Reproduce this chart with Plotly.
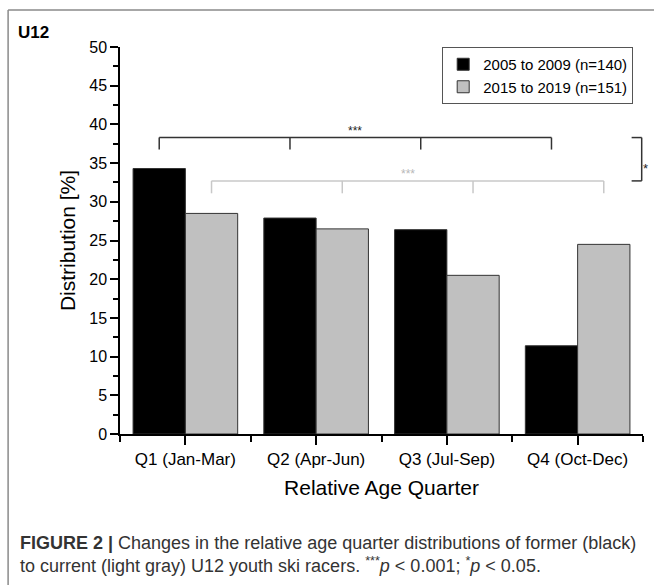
import plotly.graph_objects as go

# ---- data ----
categories = ["Q1 (Jan-Mar)", "Q2 (Apr-Jun)", "Q3 (Jul-Sep)", "Q4 (Oct-Dec)"]
series_names = ["2005 to 2009 (n=140)", "2015 to 2019 (n=151)"]
former_values = [34.3, 27.9, 26.4, 11.4]
current_values = [28.5, 26.5, 20.5, 24.5]
y_ticks = [0, 5, 10, 15, 20, 25, 30, 35, 40, 45, 50]

# significance annotations (bracket heights in % units)
former_bracket = {"level": 38.3, "drop": 36.75, "label": "***", "label_y": 39.2}
current_bracket = {"level": 32.7, "drop": 31.1, "label": "***", "label_y": 33.6}
between_bracket = {"top": 38.3, "bottom": 32.7, "label": "*"}

W, H = 654, 585
L, R, T, B = 119.5, 11, 46.7, 150.5
pw, ph = W - L - R, H - T - B
X_RANGE = [-0.5, 3.5]
Y_RANGE = [0, 50]


def px_x(px):
    return (px - L) / pw


def px_y(py):
    return (H - B - py) / ph


def dx_paper(xv):
    return (xv - X_RANGE[0]) / (X_RANGE[1] - X_RANGE[0])


def dy_paper(yv):
    return (yv - Y_RANGE[0]) / (Y_RANGE[1] - Y_RANGE[0])


x_idx = list(range(len(categories)))
bar_off = 0.2

fig = go.Figure()
fig.add_trace(go.Bar(
    x=x_idx, y=former_values, name=series_names[0],
    marker=dict(color="#000000", line=dict(color="#333333", width=1)),
))
fig.add_trace(go.Bar(
    x=x_idx, y=current_values, name=series_names[1],
    marker=dict(color="#c0c0c0", line=dict(color="#333333", width=1)),
))

shapes = []
annotations = []


def bracket(xs, level, drop, color):
    shapes.append(dict(type="line", xref="x", yref="y", x0=xs[0], x1=xs[-1],
                       y0=level, y1=level, line=dict(color=color, width=1.5)))
    for xv in xs:
        shapes.append(dict(type="line", xref="x", yref="y", x0=xv, x1=xv,
                           y0=level, y1=drop, line=dict(color=color, width=1.5)))


fx = [i - bar_off for i in x_idx]
cx = [i + bar_off for i in x_idx]
bracket(fx, former_bracket["level"], former_bracket["drop"], "#333333")
bracket(cx, current_bracket["level"], current_bracket["drop"], "#c8c8c8")
annotations.append(dict(x=(fx[0] + fx[-1]) / 2, y=former_bracket["label_y"], xref="x", yref="y",
                        text=former_bracket["label"], showarrow=False,
                        font=dict(size=12, color="#222222", family="Liberation Sans")))
annotations.append(dict(x=(cx[0] + cx[-1]) / 2, y=current_bracket["label_y"], xref="x", yref="y",
                        text=current_bracket["label"], showarrow=False,
                        font=dict(size=12, color="#b8b8b8", family="Liberation Sans")))

# right-side bracket between the two periods (paper coords so it is not clipped)
bx0, bx1 = dx_paper(3.413), dx_paper(3.49)
ytop, ybot = dy_paper(between_bracket["top"]), dy_paper(between_bracket["bottom"])
for yy in (ytop, ybot):
    shapes.append(dict(type="line", xref="paper", yref="paper", x0=bx0, x1=bx1, y0=yy, y1=yy,
                       line=dict(color="#333333", width=1.5)))
shapes.append(dict(type="line", xref="paper", yref="paper", x0=bx1, x1=bx1, y0=ytop, y1=ybot,
                   line=dict(color="#333333", width=1.5)))
annotations.append(dict(x=dx_paper(3.555), y=(ytop + ybot) / 2, xref="paper", yref="paper",
                        text=between_bracket["label"], showarrow=False,
                        font=dict(size=13, color="#222222", family="Liberation Sans")))

# outer frame (open at right/bottom)
shapes.append(dict(type="line", xref="paper", yref="paper",
                   x0=px_x(7.5), x1=px_x(660), y0=px_y(9.5), y1=px_y(9.5),
                   line=dict(color="#8a8a8a", width=1.5)))
shapes.append(dict(type="line", xref="paper", yref="paper",
                   x0=px_x(7.5), x1=px_x(7.5), y0=px_y(9.5), y1=px_y(590),
                   line=dict(color="#8a8a8a", width=1.5)))

# panel label
annotations.append(dict(x=px_x(15), y=px_y(32), xref="paper", yref="paper",
                        xanchor="left", yanchor="middle", text="<b>U12</b>", showarrow=False,
                        font=dict(size=17, color="#000000", family="Liberation Sans")))

# caption
caption = ("<b>FIGURE 2 |</b> Changes in the relative age quarter distributions of former (black)"
           "<br>to current (light gray) U12 youth ski racers. <sup>***</sup><i>p</i> &lt; 0.001; "
           "<sup>*</sup><i>p</i> &lt; 0.05.")
annotations.append(dict(x=px_x(17), y=px_y(555), xref="paper", yref="paper",
                        xanchor="left", yanchor="middle", align="left", text=caption,
                        showarrow=False,
                        font=dict(size=18, color="#333333", family="Liberation Sans")))

fig.update_layout(
    width=W, height=H,
    margin=dict(l=L, r=R, t=T, b=B, pad=0),
    paper_bgcolor="white", plot_bgcolor="white",
    barmode="group", bargap=0.2, bargroupgap=0,
    font=dict(family="Liberation Sans", color="#000000"),
    showlegend=True,
    legend=dict(x=px_x(442), y=dy_paper(50), xanchor="left", yanchor="top",
                bordercolor="#555555", borderwidth=1, bgcolor="white",
                font=dict(size=15, family="Liberation Sans"),
                tracegroupgap=0, itemwidth=30),
    shapes=shapes, annotations=annotations,
    xaxis=dict(range=X_RANGE, tickmode="array", tickvals=x_idx, ticktext=categories,
               showline=True, linecolor="#000000", linewidth=1.5,
               ticks="outside", ticklen=9, tickwidth=1.5, tickcolor="#000000",
               tickfont=dict(size=17), showgrid=False, zeroline=False,
               minor=dict(dtick=0.5, tick0=-0.5, ticks="outside", ticklen=6, tickwidth=1.5,
                          tickcolor="#000000", showgrid=False),
               title=dict(text="Relative Age Quarter", font=dict(size=21), standoff=12)),
    yaxis=dict(range=Y_RANGE, tickmode="array", tickvals=y_ticks,
               showline=True, linecolor="#000000", linewidth=1.5,
               ticks="outside", ticklen=8, tickwidth=1.5, tickcolor="#000000",
               tickfont=dict(size=16), showgrid=False, zeroline=False,
               minor=dict(dtick=2.5, ticks="outside", ticklen=5, tickwidth=1.5,
                          tickcolor="#000000", showgrid=False),
               title=dict(text="Distribution [%]", font=dict(size=21), standoff=8)),
)

fig.write_html("out.html", config={"displayModeBar": False},
               post_script="document.body.style.margin='0px';")
